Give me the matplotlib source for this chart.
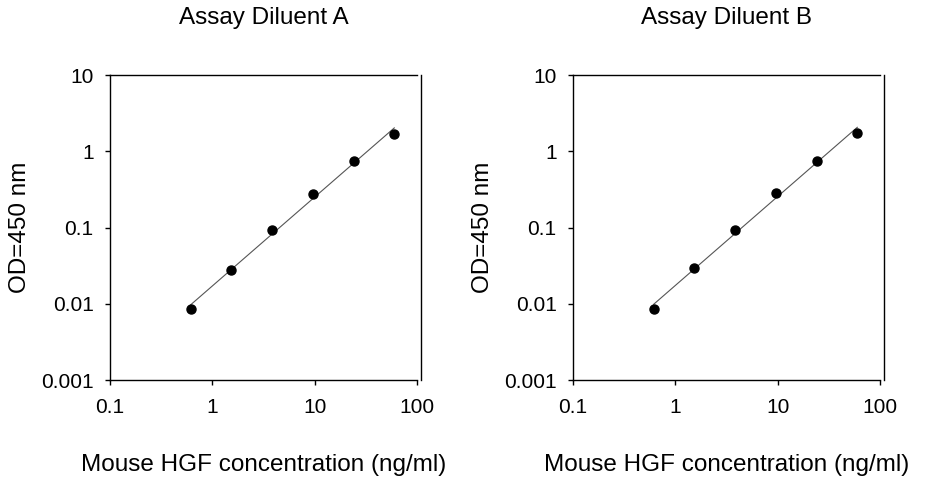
import matplotlib
matplotlib.use("Agg")
import matplotlib.pyplot as plt
import numpy as np

plt.rcParams['font.family'] = ['Liberation Sans', 'DejaVu Sans']

# standard concentrations, ng/ml (2.5-fold dilutions)
conc = [0.6144, 1.536, 3.84, 9.6, 24, 60]
od_a = [0.0085, 0.0277, 0.0935, 0.275, 0.745, 1.68]
od_b = [0.0085, 0.0291, 0.0935, 0.281, 0.745, 1.73]
titles = ['Assay Diluent A', 'Assay Diluent B']

x_ticks = [0.1, 1, 10, 100]
x_tick_labels = ['0.1', '1', '10', '100']
y_ticks = [0.001, 0.01, 0.1, 1, 10]
y_tick_labels = ['0.001', '0.01', '0.1', '1', '10']


def panel(ax, x, y, title):
	lx = np.log10(x)
	ly = np.log10(y)
	k, b = np.polyfit(lx, ly, 1)
	xf = np.array([x[0], x[-1]])
	ax.plot(xf, 10 ** (k * np.log10(xf) + b), color='#555555', lw=0.8, zorder=2)
	ax.plot(x, y, 'o', color='black', ms=6.5, zorder=3)

	ax.set_xscale('log')
	ax.set_yscale('log')
	ax.set_xlim(0.1, 100)
	ax.set_ylim(0.001, 10)
	ax.set_xticks(x_ticks)
	ax.set_xticklabels(x_tick_labels)
	ax.set_yticks(y_ticks)
	ax.set_yticklabels(y_tick_labels)
	ax.minorticks_off()
	ax.tick_params(direction='out', length=3.8, width=1, labelsize=15,
		top=False, right=False)
	ax.tick_params(axis='x', pad=9)
	ax.tick_params(axis='y', pad=8)
	for s in ax.spines.values():
		s.set_linewidth(1)
	ax.spines['right'].set_position(('outward', 3))

	ax.set_title(title, fontsize=17.5, pad=37)
	ax.set_xlabel('Mouse HGF concentration (ng/ml)', fontsize=17.5, labelpad=27)
	ax.set_ylabel('OD=450 nm', fontsize=17.5, labelpad=7)


fig = plt.figure(figsize=(9.26, 4.8), dpi=100)
ax1 = fig.add_axes([0.1188, 0.2083, 0.3315, 0.6354])
ax2 = fig.add_axes([0.6188, 0.2083, 0.3315, 0.6354])
panel(ax1, conc, od_a, titles[0])
panel(ax2, conc, od_b, titles[1])

fig.savefig('out.png', dpi=100)
